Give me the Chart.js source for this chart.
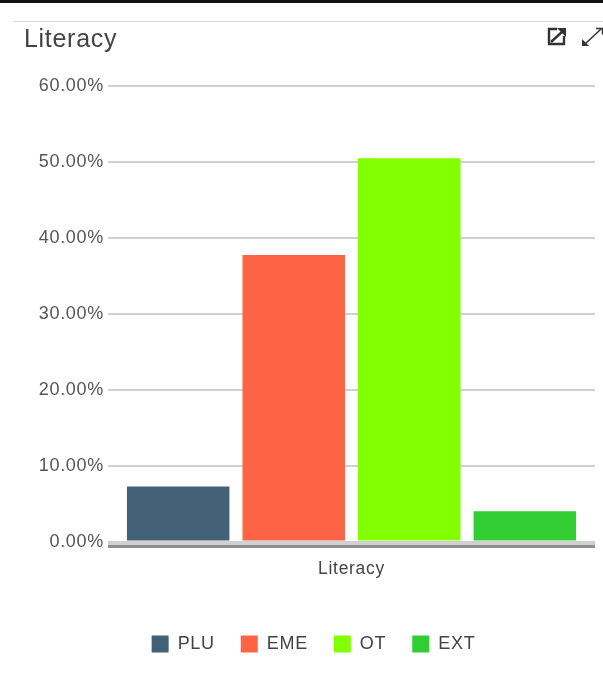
<!DOCTYPE html>
<html>
<head>
<meta charset="utf-8">
<title>Literacy</title>
<script src="https://cdn.jsdelivr.net/npm/chart.js"></script>
<style>
  html, body { margin: 0; padding: 0; background: #fff; overflow: hidden; }
  #wrap { position: relative; width: 603px; height: 698px; filter: blur(0.45px); }
  #topbar { position: absolute; left: 0; top: 0; width: 603px; height: 3px; background: #111; }
  #rule { position: absolute; left: 13px; top: 21px; width: 590px; height: 1px; background: #d8d8d8; }
  .icon { position: absolute; top: 27px; }
  canvas { position: absolute; left: 0; top: 0; }
</style>
</head>
<body>
<div id="wrap">
  <canvas id="chart" width="603" height="698"></canvas>
  <div id="topbar"></div>
  <div id="rule"></div>
  <svg class="icon" style="left:547px" width="20" height="20" viewBox="0 0 20 20">
    <path d="M10 2H2v15h15V9" fill="none" stroke="#333" stroke-width="2.4"/>
    <path d="M4 15L16 4" stroke="#333" stroke-width="2.4"/>
    <path d="M10 1h9v9z" fill="#333"/>
  </svg>
  <svg class="icon" style="left:581px" width="22" height="20" viewBox="0 0 22 20">
    <path d="M3 18L20 2" stroke="#333" stroke-width="1.5"/>
    <path d="M1 12v7h7z" fill="#333"/>
    <path d="M15 1.500h6.500v6" fill="none" stroke="#333" stroke-width="1.500"/>
  </svg>
</div>
<script>
const categories = ['Literacy'];
const seriesNames = ['PLU', 'EME', 'OT', 'EXT'];
const seriesValues = [7.35, 37.8, 50.5, 4.1];
const seriesColors = ['#426076', '#ff6346', '#82ff00', '#32cd32'];
const tickValues = [0, 10, 20, 30, 40, 50, 60];

const fontFamily = '"Liberation Sans", Arial, sans-serif';

// the original text runs a little wider than the font
const wideText = {
  id: 'wideText',
  beforeLayout(chart) { chart.ctx.letterSpacing = '0.7px'; },
  beforeDraw(chart) { chart.ctx.letterSpacing = '0.7px'; }
};

// legend sits a bit right of the page centre
const legendShift = {
  id: 'legendShift',
  afterLayout(chart) {
    chart.legend.left += 4;
    chart.legend.right += 4;
  }
};

// second darker line just under the zero line, like the original axis
const baseLine = {
  id: 'baseLine',
  afterDatasetsDraw(chart) {
    const { ctx, chartArea, scales } = chart;
    const y = scales.y.getPixelForValue(0) + 4;
    ctx.save();
    ctx.strokeStyle = '#8f8f8f';
    ctx.lineWidth = 3;
    ctx.beginPath();
    ctx.moveTo(chartArea.left, y);
    ctx.lineTo(chartArea.right, y);
    ctx.stroke();
    ctx.restore();
  }
};

new Chart(document.getElementById('chart').getContext('2d'), {
  type: 'bar',
  data: {
    labels: categories,
    datasets: seriesNames.map((name, i) => ({
      label: name,
      data: [seriesValues[i]],
      backgroundColor: seriesColors[i],
      borderWidth: 0,
      categoryPercentage: 0.949,
      barPercentage: 0.887
    }))
  },
  options: {
    responsive: false,
    animation: false,
    layout: { padding: { left: 24, right: 8, top: 25, bottom: 35 } },
    plugins: {
      tooltip: { enabled: false },
      title: {
        display: true,
        text: 'Literacy',
        align: 'start',
        color: '#444',
        font: { family: fontFamily, size: 25, weight: 'normal' },
        padding: { top: 0, bottom: 31 }
      },
      legend: {
        position: 'bottom',
        labels: {
          boxWidth: 17,
          boxHeight: 17,
          padding: 26,
          color: '#444',
          font: { family: fontFamily, size: 18 }
        }
      }
    },
    scales: {
      x: {
        grid: { display: false },
        border: { display: false },
        afterFit(scale) { scale.height = 66.5; },
        ticks: { color: '#444', padding: 8, font: { family: fontFamily, size: 17.5 } }
      },
      y: {
        min: 0,
        max: 60,
        afterFit(scale) { scale.width = 84; },
        afterBuildTicks(scale) { scale.ticks = tickValues.map(v => ({ value: v })); },
        grid: {
          color: '#d0d0d0',
          lineWidth: c => (c.tick && c.tick.value === 0 ? 4 : 2),
          drawTicks: false
        },
        border: { display: false },
        ticks: {
          color: '#555',
          padding: 4,
          font: { family: fontFamily, size: 18 },
          callback: v => v.toFixed(2) + '%'
        }
      }
    }
  },
  plugins: [wideText, legendShift, baseLine]
});
</script>
</body>
</html>
